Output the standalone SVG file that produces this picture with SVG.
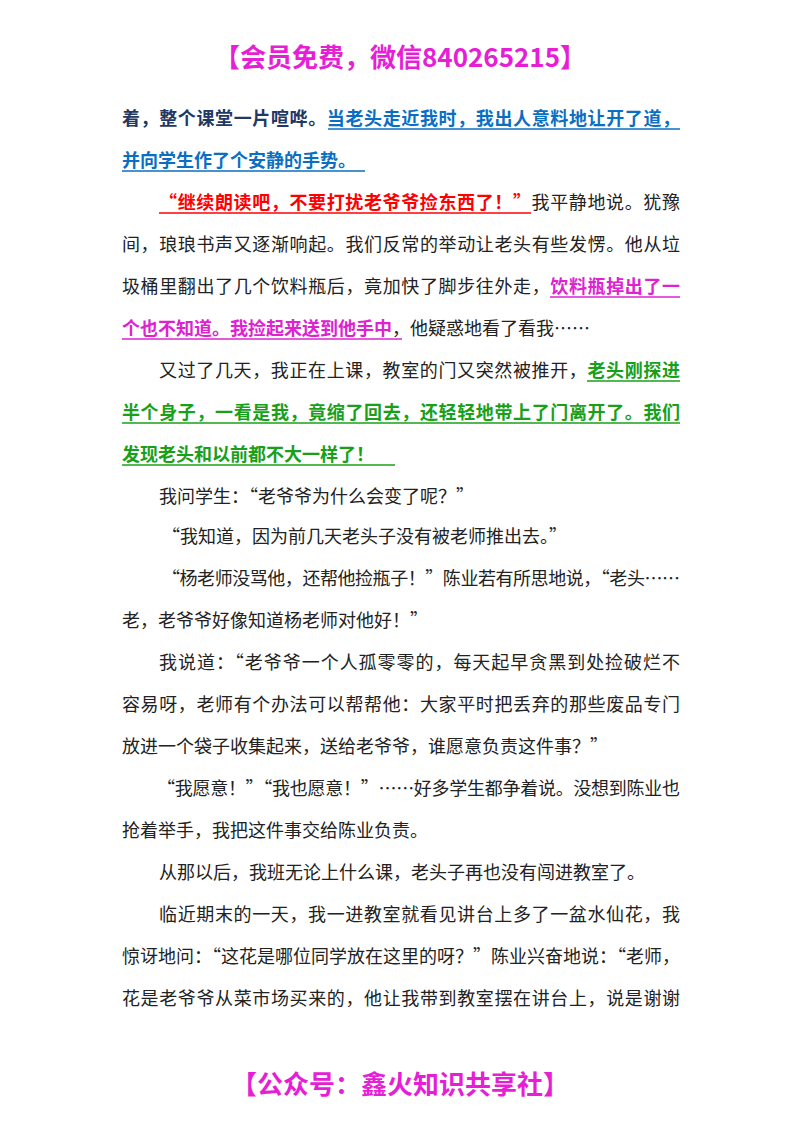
<svg xmlns="http://www.w3.org/2000/svg" width="800" height="1132" viewBox="0 0 800 1132">
<style>
text{font-family:"Noto Sans CJK SC","Liberation Sans",sans-serif;font-size:18px;fill:#222}
.h{font-size:26px;font-weight:bold;fill:#e61ed6}
.n{fill:#1f3864;font-weight:bold}
.b{fill:#0a6fc2;font-weight:bold}
.r{fill:#ff0000;font-weight:bold}
.m{fill:#dd22d0;font-weight:bold}
.g{fill:#18a018;font-weight:bold}
line{stroke-width:1.3}
</style>
<rect width="800" height="1132" fill="#fff"/>
<text class="h" x="400" y="67" text-anchor="middle">【会员免费，微信840265215】</text>
<g id="para1">
<text x="122" y="125" textLength="558" lengthAdjust="spacing"><tspan class="n">着，整个课堂一片喧哗。</tspan><tspan class="b">当老头走近我时，我出人意料地让开了道，</tspan></text>
<text x="122" y="167" class="b">并向学生作了个安静的手势。</text>
<line x1="328" y1="129" x2="680" y2="129" stroke="#0a6fc2"/>
<line x1="122" y1="171" x2="365" y2="171" stroke="#0a6fc2"/>
</g>
<g id="para2">
<text x="159" y="209" textLength="521" lengthAdjust="spacing"><tspan class="r">“继续朗读吧，不要打扰老爷爷捡东西了！”</tspan>我平静地说。犹豫</text>
<text x="122" y="251" textLength="558" lengthAdjust="spacing">间，琅琅书声又逐渐响起。我们反常的举动让老头有些发愣。他从垃</text>
<text x="122" y="293" textLength="558" lengthAdjust="spacing">圾桶里翻出了几个饮料瓶后，竟加快了脚步往外走，<tspan class="m">饮料瓶掉出了一</tspan></text>
<text x="122" y="335"><tspan class="m">个也不知道。我捡起来送到他手中</tspan>，他疑惑地看了看我……</text>
<line x1="159" y1="213" x2="531" y2="213" stroke="#ff0000"/>
<line x1="550" y1="297" x2="680" y2="297" stroke="#dd22d0"/>
<line x1="122" y1="339" x2="402" y2="339" stroke="#dd22d0"/>
</g>
<g id="para3">
<text x="159" y="377" textLength="521" lengthAdjust="spacing">又过了几天，我正在上课，教室的门又突然被推开，<tspan class="g">老头刚探进</tspan></text>
<text x="122" y="419" textLength="558" lengthAdjust="spacing" class="g">半个身子，一看是我，竟缩了回去，还轻轻地带上了门离开了。我们</text>
<text x="122" y="461" class="g">发现老头和以前都不大一样了！</text>
<line x1="587" y1="381" x2="680" y2="381" stroke="#18a018"/>
<line x1="122" y1="423" x2="680" y2="423" stroke="#18a018"/>
<line x1="122" y1="465" x2="395" y2="465" stroke="#18a018"/>
</g>
<g id="rest">
<text x="159" y="503">我问学生：“老爷爷为什么会变了呢？”</text>
<text x="162" y="543">“我知道，因为前几天老头子没有被老师推出去。”</text>
<text x="162" y="585" textLength="518" lengthAdjust="spacing">“杨老师没骂他，还帮他捡瓶子！”陈业若有所思地说，“老头……</text>
<text x="122" y="627">老，老爷爷好像知道杨老师对他好！”</text>
<text x="159" y="669" textLength="521" lengthAdjust="spacing">我说道：“老爷爷一个人孤零零的，每天起早贪黑到处捡破烂不</text>
<text x="122" y="711" textLength="558" lengthAdjust="spacing">容易呀，老师有个办法可以帮帮他：大家平时把丢弃的那些废品专门</text>
<text x="122" y="753">放进一个袋子收集起来，送给老爷爷，谁愿意负责这件事？”</text>
<text x="157" y="795" textLength="523" lengthAdjust="spacing">“我愿意！”“我也愿意！”……好多学生都争着说。没想到陈业也</text>
<text x="122" y="837">抢着举手，我把这件事交给陈业负责。</text>
<text x="159" y="879">从那以后，我班无论上什么课，老头子再也没有闯进教室了。</text>
<text x="159" y="921" textLength="521" lengthAdjust="spacing">临近期末的一天，我一进教室就看见讲台上多了一盆水仙花，我</text>
<text x="122" y="963" textLength="558" lengthAdjust="spacing">惊讶地问：“这花是哪位同学放在这里的呀？”陈业兴奋地说：“老师，</text>
<text x="122" y="1005" textLength="558" lengthAdjust="spacing">花是老爷爷从菜市场买来的，他让我带到教室摆在讲台上，说是谢谢</text>
</g>
<text class="h" x="400" y="1094" text-anchor="middle">【公众号：鑫火知识共享社】</text>
</svg>
